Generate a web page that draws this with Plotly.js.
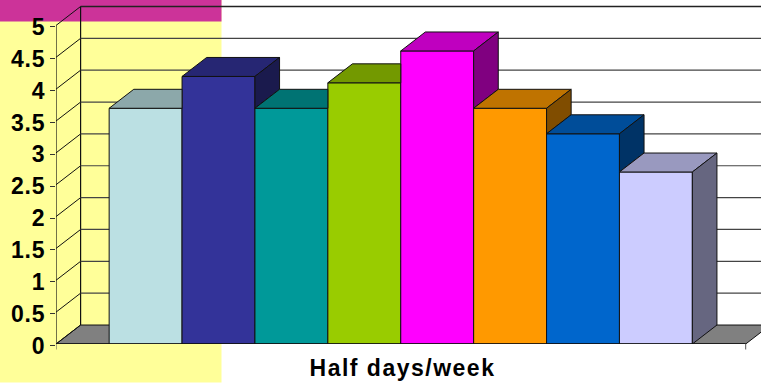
<!DOCTYPE html>
<html>
<head>
<meta charset="utf-8">
<script src="https://cdn.plot.ly/plotly-3.0.1.min.js"></script>
<style>
html,body{margin:0;padding:0;background:#fff;overflow:hidden}
#chart{width:761px;height:383px}
.xtitle{letter-spacing:1.5px;transform:translateX(-6px)}
.ytick text{letter-spacing:0.8px}
.yaxislayer-above{transform:translateY(1.5px)}
</style>
</head>
<body>
<div id="chart"></div>
<script>
// Weekly half-day counts, one column per group
const categories = [0, 1, 2, 3, 4, 5, 6, 7];
const values = [3.7, 4.2, 3.7, 4.1, 4.6, 3.7, 3.3, 2.7];
const frontColors = ['#BBE0E3', '#333399', '#009999', '#99CC00', '#FF00FF', '#FF9900', '#0066CC', '#CCCCFF'];
const topColors = ['#8CA8AA', '#262673', '#007373', '#739900', '#BF00BF', '#BF7300', '#004D99', '#9999BF'];
const sideColors = ['#5E7072', '#1A1A4D', '#004D4D', '#4D6600', '#800080', '#804D00', '#003366', '#666680'];
const yTicks = [0, 0.5, 1, 1.5, 2, 2.5, 3, 3.5, 4, 4.5, 5];
const yTickText = ['0', '0.5', '1', '1.5', '2', '2.5', '3', '3.5', '4', '4.5', '5'];
const xTitle = 'Half days/week';

// Oblique projection of the fake 3D box, in axis units
const W = 761, H = 383, ML = 56, MB = 38.5;
const colPx = 72.9, unitPx = 63.8;
const dx = 24.6 / colPx, dy = 19 / unitPx;
const xMin = (ML - 145.6) / colPx, xMax = (W - 145.6) / colPx;
const yMax = (H - MB) / unitPx;
const wallRight = xMax + dx;
const floorRight = (745.7 - 145.6) / colPx;
const ink = '#111';

const px = v => (v - ML) / (W - ML);
const py = v => 1 - v / (H - MB);

const shapes = [
  // slide backdrop behind the chart
  {type: 'rect', xref: 'paper', yref: 'paper', x0: px(0), x1: px(221.5), y0: py(H), y1: py(0),
   fillcolor: '#FFFF99', line: {width: 0}, layer: 'below'},
  {type: 'rect', xref: 'paper', yref: 'paper', x0: px(0), x1: px(221.5), y0: py(21.5), y1: py(0),
   fillcolor: '#CC3399', line: {width: 0}, layer: 'below'},
  // floor
  {type: 'path', xref: 'x', yref: 'y', layer: 'below', fillcolor: '#808080', line: {color: ink, width: 1},
   path: `M ${xMin} 0 L ${xMin + dx} ${dy} L ${floorRight + dx} ${dy} L ${floorRight} 0 Z`},
  // walls and base edges
  {type: 'line', x0: xMin, x1: xMin, y0: 0, y1: 5, layer: 'below', line: {color: ink, width: 1.2}},
  {type: 'line', x0: xMin + dx, x1: xMin + dx, y0: dy, y1: 5 + dy, layer: 'below', line: {color: ink, width: 1.2}},
  {type: 'line', x0: xMin, x1: floorRight, y0: 0, y1: 0, line: {color: ink, width: 1.5}},
  {type: 'line', xref: 'x', yref: 'paper', x0: floorRight, x1: floorRight, y0: 0, y1: py(350), line: {color: '#555', width: 1}},
  {type: 'line', xref: 'x', yref: 'paper', x0: xMin, x1: xMin, y0: 0, y1: py(350), line: {color: '#555', width: 1}}
];

// Gridlines: a diagonal from each tick to the back wall, then across it
yTicks.forEach(t => {
  shapes.push({type: 'line', x0: xMin, x1: xMin + dx, y0: t, y1: t + dy, layer: 'below', line: {color: ink, width: 1}});
  if (t > 0) {
    shapes.push({type: 'line', x0: xMin + dx, x1: wallRight, y0: t + dy, y1: t + dy, layer: 'below',
                 line: {color: t === 5 ? '#222' : '#444', width: t === 5 ? 1.5 : 1.2}});
  }
});

const faceTrace = (xs, ys, color) => ({
  type: 'scatter', mode: 'lines', x: xs, y: ys, fill: 'toself', fillcolor: color,
  line: {color: ink, width: 1}, hoverinfo: 'skip', showlegend: false
});

// Front faces come from a real bar trace; top and side faces sit above it,
// so the part of each that the next column would hide is cut away here.
const faces = [];
categories.forEach((c, i) => {
  const v = values[i], next = i + 1 < values.length ? values[i + 1] : 0;
  const l = c - 0.5, r = c + 0.5;
  if (next > v) {
    faces.push(faceTrace([l, l + dx, r, r, l], [v, v + dy, v + dy, v, v], topColors[i]));
  } else {
    faces.push(faceTrace([l, l + dx, r + dx, r, l], [v, v + dy, v + dy, v, v], topColors[i]));
    faces.push(faceTrace([r, r + dx, r + dx, r, r], [v, v + dy, next + dy, next, v], sideColors[i]));
  }
});

const bars = {
  type: 'bar', x: categories, y: values, width: 1,
  marker: {color: frontColors, line: {color: ink, width: 1}},
  hoverinfo: 'skip', showlegend: false
};

const font = {family: 'Liberation Sans, Arial, sans-serif', size: 23, color: '#000', weight: 700};

Plotly.newPlot('chart', [bars].concat(faces), {
  width: W, height: H,
  margin: {l: ML, r: 0, t: 0, b: MB, pad: 0},
  paper_bgcolor: '#fff', plot_bgcolor: 'rgba(0,0,0,0)',
  showlegend: false, hovermode: false, bargap: 0,
  shapes: shapes,
  xaxis: {
    range: [xMin, xMax], showgrid: false, zeroline: false, showline: false,
    showticklabels: false, ticks: '', fixedrange: true,
    title: {text: '<b>' + xTitle + '</b>', standoff: 15,
            font: {family: font.family, size: 23, color: '#000'}}
  },
  yaxis: {
    range: [0, yMax], showgrid: false, zeroline: false, showline: false,
    tickmode: 'array', tickvals: yTicks, ticktext: yTickText,
    ticks: 'outside', ticklen: 5, tickwidth: 1, tickcolor: '#333',
    tickfont: font, fixedrange: true
  }
}, {displayModeBar: false, staticPlot: true});
</script>
</body>
</html>
